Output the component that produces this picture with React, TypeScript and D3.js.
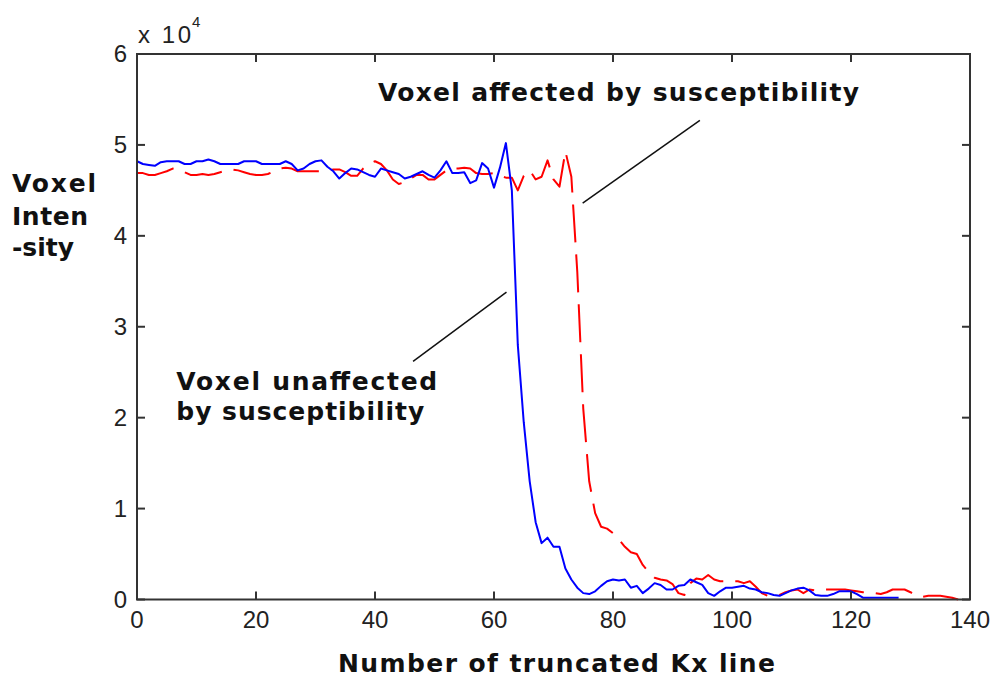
import React from 'react';
import { scaleLinear, line } from 'd3';

// x = number of truncated Kx lines, values in units of 1e4
const unaffected = [
  4.82, 4.79, 4.78, 4.77, 4.81, 4.82, 4.82, 4.82, 4.79, 4.79,
  4.82, 4.82, 4.84, 4.82, 4.79, 4.79, 4.79, 4.79, 4.82, 4.82,
  4.82, 4.79, 4.79, 4.79, 4.79, 4.82, 4.79, 4.72, 4.74, 4.79,
  4.82, 4.83, 4.76, 4.71, 4.63, 4.69, 4.74, 4.73, 4.70, 4.67,
  4.65, 4.74, 4.72, 4.70, 4.68, 4.63, 4.65, 4.68, 4.71, 4.67,
  4.64, 4.72, 4.82, 4.69, 4.69, 4.70, 4.58, 4.61, 4.80, 4.74,
  4.53, 4.75, 5.02, 4.50, 2.80, 1.95, 1.30, 0.85, 0.62, 0.68,
  0.58, 0.58, 0.34, 0.22, 0.13, 0.07, 0.06, 0.09, 0.15, 0.20,
  0.22, 0.21, 0.22, 0.13, 0.15, 0.07, 0.12, 0.18, 0.16, 0.11,
  0.11, 0.15, 0.16, 0.22, 0.19, 0.16, 0.07, 0.04, 0.09, 0.13,
  0.13, 0.14, 0.15, 0.12, 0.11, 0.08, 0.07, 0.05, 0.04, 0.07,
  0.10, 0.12, 0.13, 0.10, 0.05, 0.04, 0.04, 0.06, 0.09, 0.09,
  0.09, 0.06, 0.02, 0.02, 0.02, 0.02, 0.02, 0.02, 0.02,
];

const affected = [
  4.69, 4.69, 4.67, 4.67, 4.69, 4.71, 4.74, 4.73, 4.70, 4.67,
  4.67, 4.68, 4.67, 4.68, 4.70, 4.72, 4.73, 4.72, 4.70, 4.68,
  4.67, 4.67, 4.68, 4.71, 4.74, 4.75, 4.74, 4.71, 4.71, 4.71,
  4.71, 4.71, 4.72, 4.73, 4.73, 4.70, 4.66, 4.66, 4.74, 4.79,
  4.82, 4.79, 4.72, 4.62, 4.57, 4.59, 4.63, 4.67, 4.67, 4.62,
  4.62, 4.67, 4.72, 4.74, 4.74, 4.75, 4.74, 4.69, 4.68, 4.68,
  4.69, 4.66, 4.64, 4.64, 4.50, 4.66, 4.72, 4.62, 4.65, 4.83,
  4.62, 4.54, 4.93, 4.65, 3.60, 2.10, 1.30, 0.95, 0.80, 0.78,
  0.73, 0.66, 0.58, 0.52, 0.50, 0.38, 0.30, 0.24, 0.22, 0.21,
  0.17, 0.07, 0.05, 0.18, 0.23, 0.22, 0.27, 0.22, 0.20, 0.20,
  0.20, 0.20, 0.18, 0.20, 0.14, 0.07, 0.04, 0.04, 0.05, 0.08,
  0.10, 0.11, 0.07, 0.11, 0.10, 0.11, 0.11, 0.11, 0.11, 0.11,
  0.10, 0.09, 0.08, 0.07, 0.07, 0.06, 0.08, 0.11, 0.11, 0.11,
  0.08, 0.04, 0.03, 0.04, 0.04, 0.04, 0.03, 0.02, 0.00,
];

const xTicks = [0, 20, 40, 60, 80, 100, 120, 140];
const yTicks = [0, 1, 2, 3, 4, 5, 6];

const W = 996;
const H = 677;
const left = 137, right = 970, top = 54, bottom = 599.5;

const tickFont = '"Liberation Sans", Arial, sans-serif';
const boldFont = '"DejaVu Sans", Verdana, sans-serif';

export default function App() {
  const x = scaleLinear().domain([0, 140]).range([left, right]);
  const y = scaleLinear().domain([0, 6]).range([bottom, top]);
  const path = line<number>().x((d, i) => x(i)).y(d => y(d));
  const tl = 8;

  return (
    <svg width={W} height={H} style={{ position: 'absolute', left: 0, top: 0, background: '#fff' }}>
      <rect x={0} y={0} width={W} height={H} fill="#fff" />

      {/* data */}
      <path d={path(affected) || ''} fill="none" stroke="#ff0000" strokeWidth={2}
        strokeDasharray="38,12" strokeLinejoin="round" />
      <path d={path(unaffected) || ''} fill="none" stroke="#0000ff" strokeWidth={2}
        strokeLinejoin="round" />

      {/* frame */}
      <rect x={left} y={top} width={right - left} height={bottom - top}
        fill="none" stroke="#333" strokeWidth={2} />
      {xTicks.map(t => (
        <g key={'x' + t}>
          <line x1={x(t)} x2={x(t)} y1={bottom} y2={bottom - tl} stroke="#333" strokeWidth={2} />
          <line x1={x(t)} x2={x(t)} y1={top} y2={top + tl} stroke="#333" strokeWidth={2} />
          <text x={x(t)} y={628} textAnchor="middle" fontFamily={tickFont} fontSize={24} fill="#222">{t}</text>
        </g>
      ))}
      {yTicks.map(t => (
        <g key={'y' + t}>
          <line x1={left} x2={left + tl} y1={y(t)} y2={y(t)} stroke="#333" strokeWidth={2} />
          <line x1={right} x2={right - tl} y1={y(t)} y2={y(t)} stroke="#333" strokeWidth={2} />
          <text x={127} y={y(t) + 8} textAnchor="end" fontFamily={tickFont} fontSize={24} fill="#222">{t}</text>
        </g>
      ))}
      <text x={138} y={43} fontFamily={tickFont} fontSize={24} fill="#222" textLength={53} lengthAdjust="spacing">x 10</text>
      <text x={192} y={27} fontFamily={tickFont} fontSize={15} fill="#222">4</text>

      {/* axis titles */}
      <text x={338} y={672} fontFamily={boldFont} fontWeight="bold" fontSize={25}
        textLength={437} lengthAdjust="spacing" fill="#111">Number of truncated Kx line</text>
      <g fontFamily={boldFont} fontWeight="bold" fontSize={25} fill="#111">
        <text x={12} y={192} textLength={84} lengthAdjust="spacing">Voxel</text>
        <text x={12} y={225} textLength={76} lengthAdjust="spacing">Inten</text>
        <text x={12} y={256} textLength={62} lengthAdjust="spacing">-sity</text>
      </g>

      {/* annotations */}
      <line x1={x(74.9)} y1={y(4.36)} x2={x(94.6)} y2={y(5.27)} stroke="#111" strokeWidth={1.5} />
      <line x1={x(46.4)} y1={y(2.62)} x2={x(62.1)} y2={y(3.38)} stroke="#111" strokeWidth={1.5} />
      <g fontFamily={boldFont} fontWeight="bold" fontSize={25} fill="#111">
        <text x={x(40.5)} y={y(5.48)} textLength={481} lengthAdjust="spacing">Voxel affected by susceptibility</text>
        <text x={x(6.6)} y={y(2.3)} textLength={261} lengthAdjust="spacing">Voxel unaffected</text>
        <text x={x(6.6)} y={y(1.97)} textLength={248} lengthAdjust="spacing">by susceptibility</text>
      </g>
    </svg>
  );
}
